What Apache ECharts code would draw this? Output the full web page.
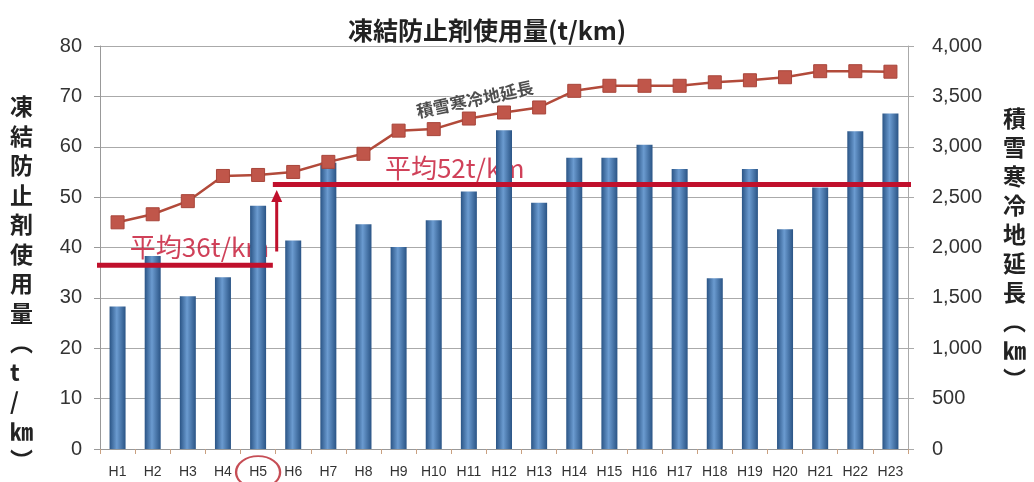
<!DOCTYPE html>
<html><head><meta charset="utf-8">
<script src="https://cdn.jsdelivr.net/npm/echarts@6/dist/echarts.min.js"></script>
<style>html,body{margin:0;padding:0;background:#fff}#c{width:1034px;height:482px}</style>
</head><body><div id="c"></div>
<script>
const categories = ['H1','H2','H3','H4','H5','H6','H7','H8','H9','H10','H11','H12','H13','H14','H15','H16','H17','H18','H19','H20','H21','H22','H23'];
const usage = [28.3,38.3,30.3,34.1,48.3,41.4,56.8,44.6,40.1,45.4,51.1,63.3,48.9,57.8,57.8,60.4,55.6,33.9,55.6,43.6,51.9,63.1,66.6];
const coldLength = [2250,2330,2460,2710,2720,2750,2850,2930,3160,3175,3280,3340,3390,3555,3605,3605,3605,3640,3660,3690,3750,3750,3745];
const leftTicks = [0,10,20,30,40,50,60,70,80];
const avgLabels = ['平均36t/km','平均52t/km'];
const avgValues = [36.5, 52.5];

const FONT = '"Liberation Sans", Arial, sans-serif';
const CJK = '"Noto Sans CJK JP", sans-serif';
const chart = echarts.init(document.getElementById('c'));
const barGrad = new echarts.graphic.LinearGradient(0,0,1,0,[
  {offset:0,color:'#2a5485'},{offset:0.45,color:'#6b9bd0'},{offset:1,color:'#2a5485'}]);

chart.setOption({
  animation:false,
  backgroundColor:'#fff',
  title:{text:'凍結防止剤使用量(t/km)', left:343, top:13,
    textStyle:{fontFamily:CJK, fontSize:25, fontWeight:'bold', color:'#222'}},
  grid:{left:100, right:126, top:46, bottom:33},
  xAxis:[{type:'category', data:categories, axisLine:{lineStyle:{color:'#999'}},
      axisTick:{show:true, lineStyle:{color:'#c9a080'}, length:5},
      axisLabel:{fontFamily:FONT, fontSize:14, color:'#333', margin:16}},
    {type:'value', min:0, max:23, show:false}],
  yAxis:[{type:'value', min:0, max:80, interval:10,
      axisLine:{show:true, lineStyle:{color:'#999'}},
      axisTick:{show:true, length:6, lineStyle:{color:'#999'}},
      splitLine:{lineStyle:{color:'#aaa'}},
      axisLabel:{fontFamily:FONT, fontSize:20, color:'#333', margin:18,
        formatter:v=>leftTicks.includes(v)?String(v):''}},
    {type:'value', min:0, max:4000, interval:500,
      axisLine:{show:true, lineStyle:{color:'#aaa'}},
      axisTick:{show:true, length:6, lineStyle:{color:'#aaa'}},
      splitLine:{show:false},
      axisLabel:{fontFamily:FONT, fontSize:20, color:'#333', margin:24,
        formatter:v=>v.toLocaleString('en-US')}}],
  graphic:[
    {type:'text', left:10, top:92, style:{text:'凍\n結\n防\n止\n剤\n使\n用\n量\n︵\nt\n/\n㎞\n︶',
      font:'bold 23px "Noto Sans CJK JP"', fill:'#222', lineHeight:29.5, align:'center'}},
    {type:'text', left:1003, top:104, style:{text:'積\n雪\n寒\n冷\n地\n延\n長\n︵\n㎞\n︶',
      font:'bold 23px "Noto Sans CJK JP"', fill:'#222', lineHeight:29, align:'center'}}
  ],
  series:[
    {type:'scatter', xAxisIndex:1, yAxisIndex:0, z:1, symbolSize:0, silent:true,
      data:[{value:[0.85,40.1],name:avgLabels[0]},{value:[8.11,55.75],name:avgLabels[1]}],
      label:{show:true, position:'right', distance:0, formatter:p=>p.name,
        fontFamily:CJK, fontSize:26, color:'#c4122f'}},
    {type:'bar', data:usage, barWidth:16, z:2, itemStyle:{color:barGrad}},
    {type:'line', yAxisIndex:1, data:coldLength, z:3, symbol:'rect', symbolSize:13,
      lineStyle:{color:'#b24a3a', width:2.5}, itemStyle:{color:'#c0564a', borderColor:'#a8453a', borderWidth:1}},
    {type:'line', xAxisIndex:1, yAxisIndex:0, z:4, symbol:'none', silent:true,
      data:[[-0.1,avgValues[0]],[4.92,avgValues[0]]], lineStyle:{color:'#c0102c', width:5}},
    {type:'line', xAxisIndex:1, yAxisIndex:0, z:4, symbol:'none', silent:true,
      data:[[4.92,avgValues[1]],[23.2,avgValues[1]]], lineStyle:{color:'#c0102c', width:5}},
    {type:'line', xAxisIndex:1, yAxisIndex:0, z:4, silent:true,
      data:[{value:[5.03,39.2],symbol:'none'},{value:[5.03,50.2],symbol:'triangle',symbolSize:[11,12]}],
      lineStyle:{color:'#c0102c', width:3}, itemStyle:{color:'#c0102c'}},
    {type:'scatter', xAxisIndex:1, yAxisIndex:0, z:5, symbolSize:0, silent:true,
      data:[{value:[10.67,69.4],name:'積雪寒冷地延長'}],
      label:{show:true, position:'inside', formatter:p=>p.name, rotate:12,
        fontFamily:CJK, fontSize:17, fontWeight:'bold', color:'#222',
        textBorderColor:'#fff', textBorderWidth:2}},
    {type:'scatter', xAxisIndex:1, yAxisIndex:0, z:5, silent:true, clip:false,
      data:[[4.5,-4.6]], symbol:'circle', symbolSize:[44,32],
      itemStyle:{color:'rgba(0,0,0,0)', borderColor:'#b8202a', borderWidth:2}}
  ]
});
</script></body></html>
